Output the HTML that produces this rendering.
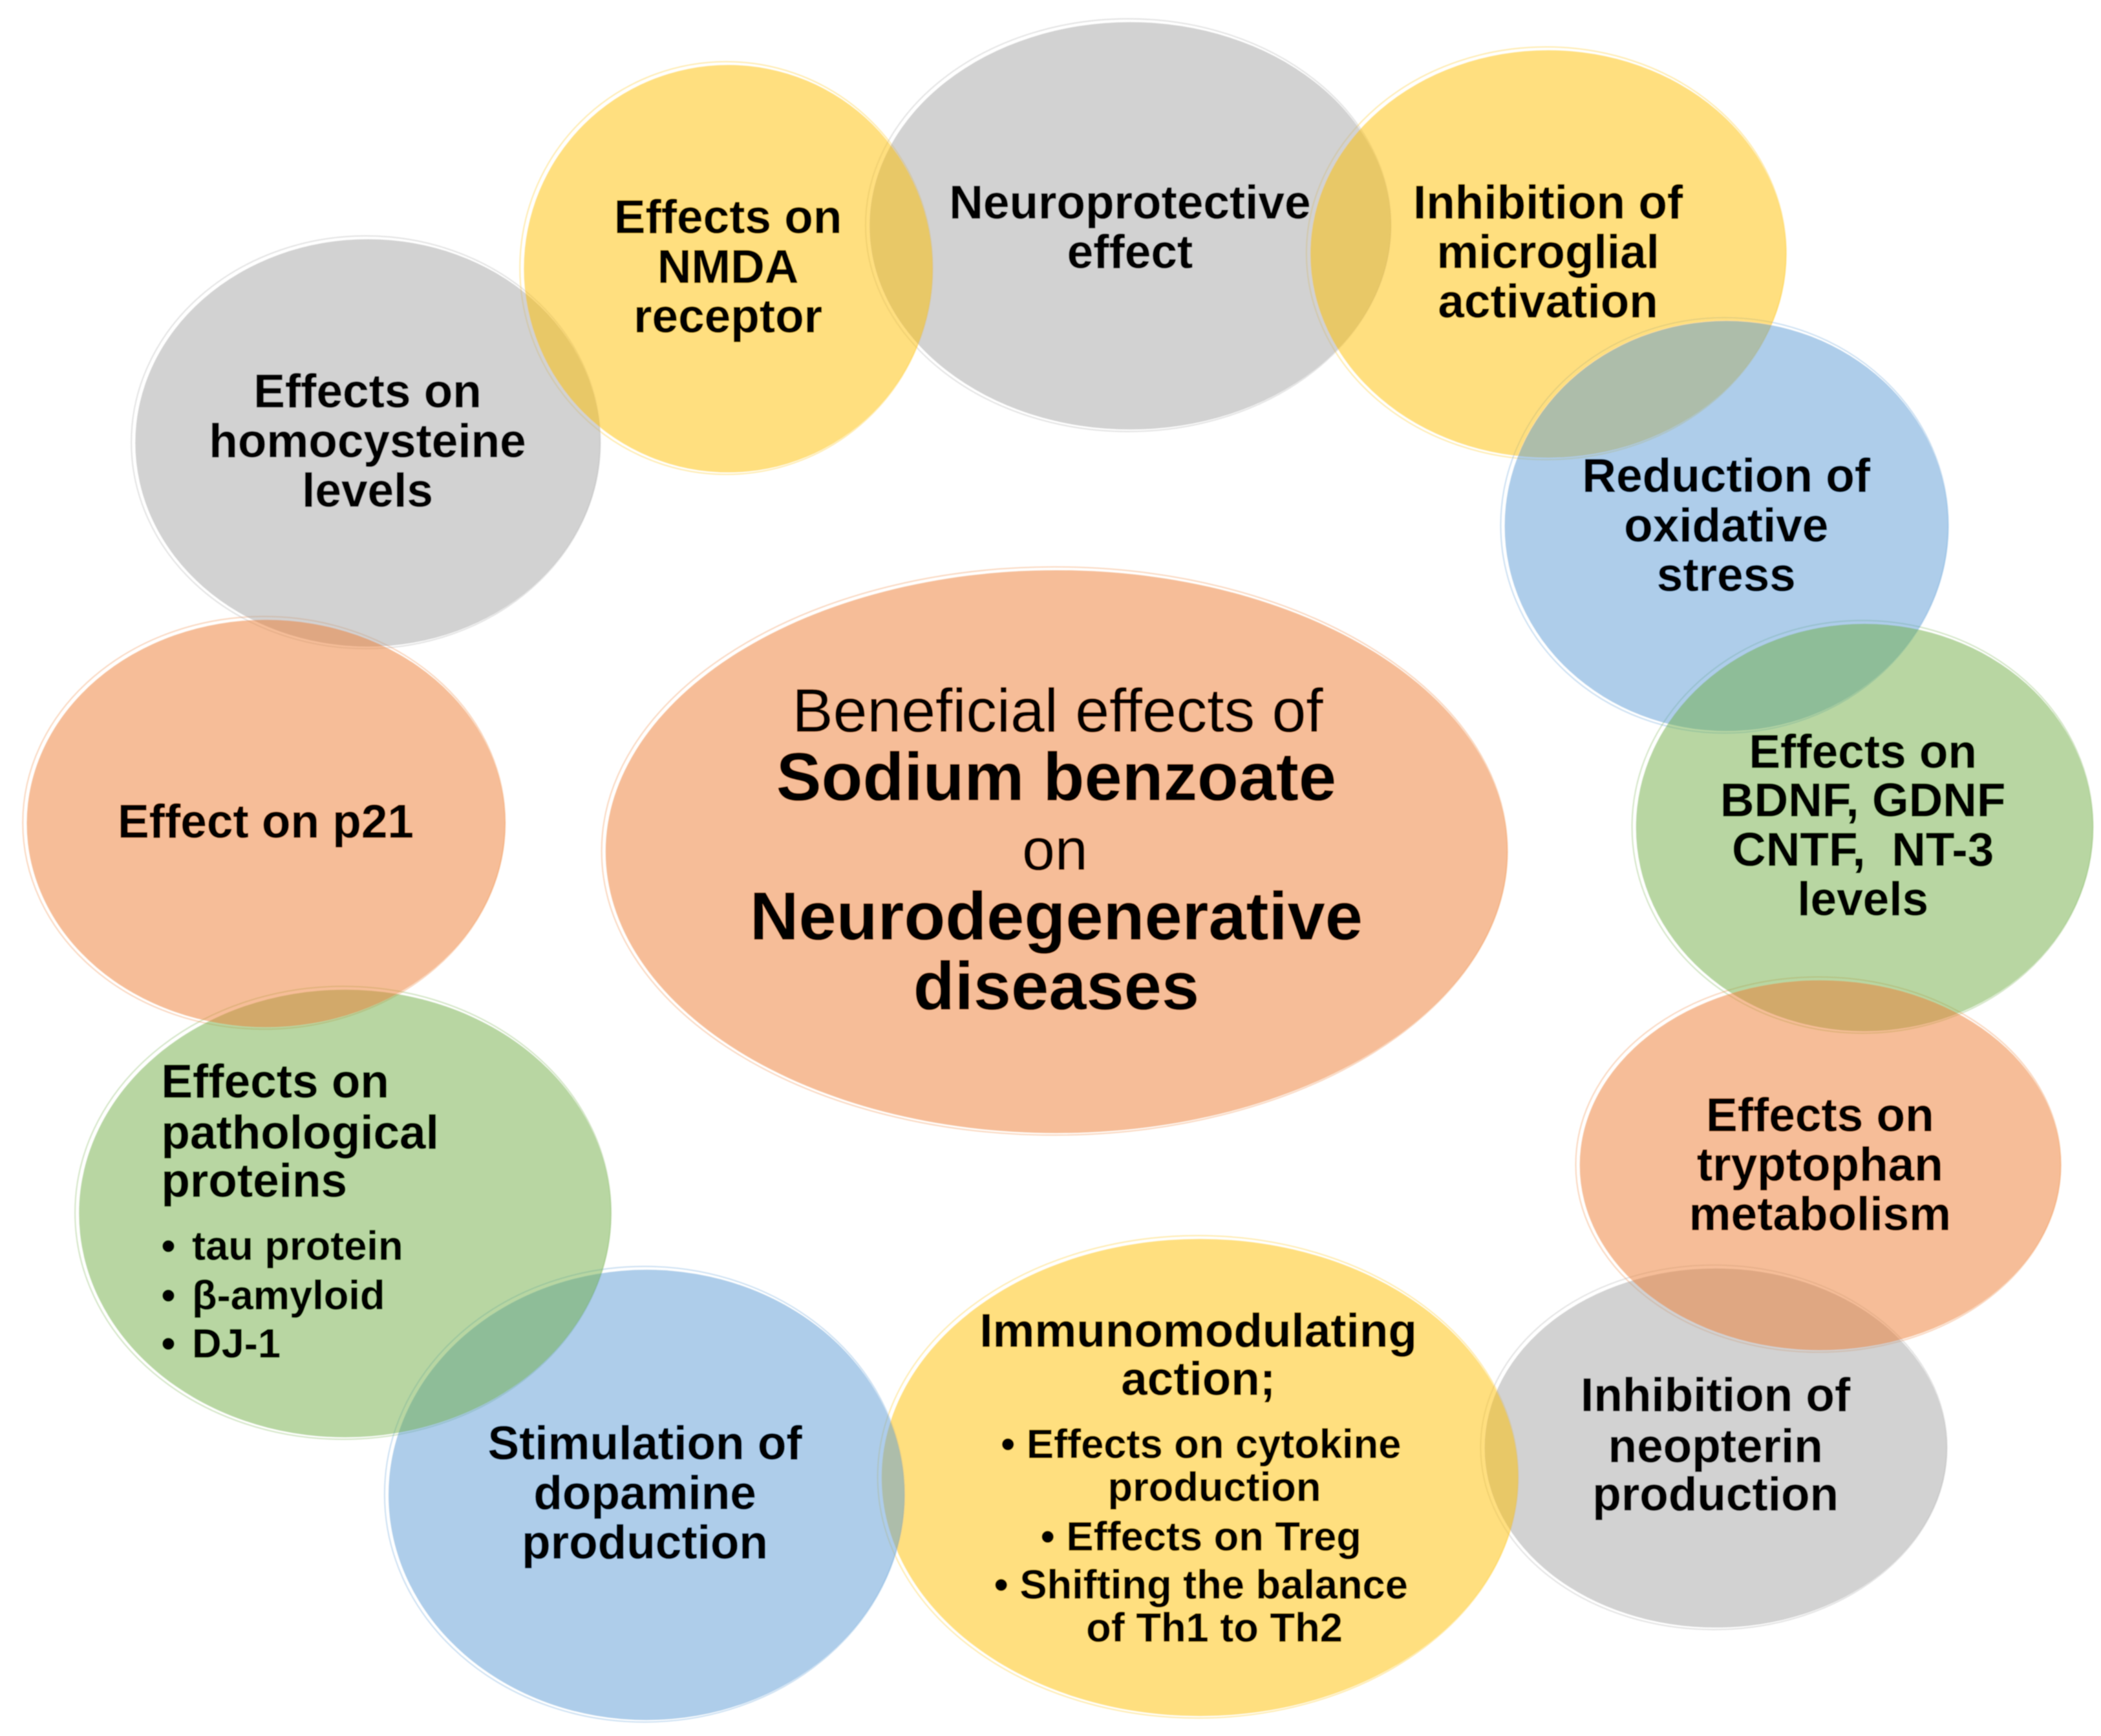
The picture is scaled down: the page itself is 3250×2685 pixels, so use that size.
<!DOCTYPE html>
<html><head><meta charset="utf-8"><style>
html,body{margin:0;padding:0;background:#fff}
svg{display:block}
text{font-family:"Liberation Sans",sans-serif;fill:#000;text-anchor:middle;font-weight:bold;font-size:35.2px}
.s{font-size:30.5px}
.l{text-anchor:start}
.n{font-weight:normal;font-size:45.8px}
.b{font-size:50.5px}
.rim{fill:none;stroke-width:1}
</style></head><body>
<svg xmlns="http://www.w3.org/2000/svg" width="3250" height="2685" viewBox="0 0 1568 1295.4">
<rect width="1568" height="1296" fill="#fff"/>
<defs><filter id="bl" x="-5%" y="-5%" width="110%" height="110%"><feGaussianBlur stdDeviation="0.4"/></filter></defs>
<g filter="url(#bl)">
<!-- rims -->
<g class="rims" stroke-opacity=".3">
<ellipse class="rim" cx="842" cy="168" rx="196" ry="154" stroke="#A5A5A5"/>
<ellipse class="rim" cx="542" cy="200" rx="154" ry="154" stroke="#FFC000"/>
<ellipse class="rim" cx="1154" cy="189" rx="179" ry="154" stroke="#FFC000"/>
<ellipse class="rim" cx="1287" cy="392" rx="167" ry="155" stroke="#5B9BD5"/>
<ellipse class="rim" cx="1390" cy="617" rx="172" ry="154" stroke="#70AD47"/>
<ellipse class="rim" cx="1357" cy="869" rx="181" ry="140" stroke="#ED7D31"/>
<ellipse class="rim" cx="1279" cy="1080" rx="174" ry="136" stroke="#A5A5A5"/>
<ellipse class="rim" cx="894" cy="1102" rx="239" ry="180" stroke="#FFC000"/>
<ellipse class="rim" cx="481" cy="1115" rx="194" ry="170" stroke="#5B9BD5"/>
<ellipse class="rim" cx="256" cy="905" rx="200" ry="169" stroke="#70AD47"/>
<ellipse class="rim" cx="197" cy="614" rx="180" ry="154" stroke="#ED7D31"/>
<ellipse class="rim" cx="273" cy="330" rx="175" ry="154" stroke="#A5A5A5"/>
<ellipse class="rim" cx="787" cy="635" rx="338" ry="212" stroke="#ED7D31"/>
</g>
<!-- fills -->
<g fill-opacity=".5">
<ellipse cx="274.5" cy="330.5" rx="173.5" ry="152" fill="#A5A5A5"/>
<ellipse cx="1280.5" cy="1080.5" rx="172.5" ry="134" fill="#A5A5A5"/>
<ellipse cx="843.5" cy="168.5" rx="194.5" ry="152" fill="#A5A5A5"/>
<ellipse cx="543.5" cy="200.5" rx="152.5" ry="152" fill="#FFC000"/>
<ellipse cx="1155.5" cy="189.5" rx="177.5" ry="152" fill="#FFC000"/>
<ellipse cx="1288.5" cy="392.5" rx="165.5" ry="153" fill="#5B9BD5"/>
<ellipse cx="1391.5" cy="617.5" rx="170.5" ry="152" fill="#70AD47"/>
<ellipse cx="1358.5" cy="869.5" rx="179.5" ry="138" fill="#ED7D31"/>
<ellipse cx="895.5" cy="1102.5" rx="237.5" ry="178" fill="#FFC000"/>
<ellipse cx="482.5" cy="1115.5" rx="192.5" ry="168" fill="#5B9BD5"/>
<ellipse cx="257.5" cy="905.5" rx="198.5" ry="167" fill="#70AD47"/>
<ellipse cx="198.5" cy="614.5" rx="178.5" ry="152" fill="#ED7D31"/>
<ellipse cx="788.5" cy="635.5" rx="336.5" ry="210" fill="#ED7D31"/>
</g>
<!-- text -->
<g transform="translate(0.3,1)">
<text x="843" y="162">Neuroprotective</text>
<text x="843" y="199">effect</text>
<text x="543" y="173">Effects on</text>
<text x="543" y="210">NMDA</text>
<text x="543" y="247">receptor</text>
<text x="1155" y="162">Inhibition of</text>
<text x="1155" y="199">microglial</text>
<text x="1155" y="236">activation</text>
<text x="1288" y="366">Reduction of</text>
<text x="1288" y="403">oxidative</text>
<text x="1288" y="440">stress</text>
<text x="1390" y="572">Effects on</text>
<text x="1390" y="608">BDNF, GDNF</text>
<text x="1390" y="645" xml:space="preserve">CNTF,  NT-3</text>
<text x="1390" y="682">levels</text>
<text x="1358" y="843">Effects on</text>
<text x="1358" y="880">tryptophan</text>
<text x="1358" y="917">metabolism</text>
<text x="1280" y="1052">Inhibition of</text>
<text x="1280" y="1090">neopterin</text>
<text x="1280" y="1126">production</text>
<text x="894" y="1004">Immunomodulating</text>
<text x="894" y="1040">action;</text>
<text class="s" x="896" y="1087">• Effects on cytokine</text>
<text class="s" x="906" y="1119">production</text>
<text class="s" x="896" y="1156">• Effects on Treg</text>
<text class="s" x="896" y="1192">• Shifting the balance</text>
<text class="s" x="906" y="1224">of Th1 to Th2</text>
<text x="481" y="1088">Stimulation of</text>
<text x="481" y="1125">dopamine</text>
<text x="481" y="1162">production</text>
<text class="l" x="120" y="818">Effects on</text>
<text class="l" x="120" y="856">pathological</text>
<text class="l" x="120" y="892">proteins</text>
<text class="s l" x="120" y="939">•</text>
<text class="s l" x="143" y="939">tau protein</text>
<text class="s l" x="120" y="976">•</text>
<text class="s l" x="143" y="976">β-amyloid</text>
<text class="s l" x="120" y="1012">•</text>
<text class="s l" x="143" y="1012">DJ-1</text>
<text x="198" y="624">Effect on p21</text>
<text x="274" y="303">Effects on</text>
<text x="274" y="340">homocysteine</text>
<text x="274" y="377">levels</text>
<text class="n" x="789" y="545">Beneficial effects of</text>
<text class="b" x="788" y="596">Sodium benzoate</text>
<text class="n" x="787" y="648" style="font-size:44px">on</text>
<text class="b" x="788" y="700">Neurodegenerative</text>
<text class="b" x="788" y="752">diseases</text>
</g>
</g>
</svg>
</body></html>
